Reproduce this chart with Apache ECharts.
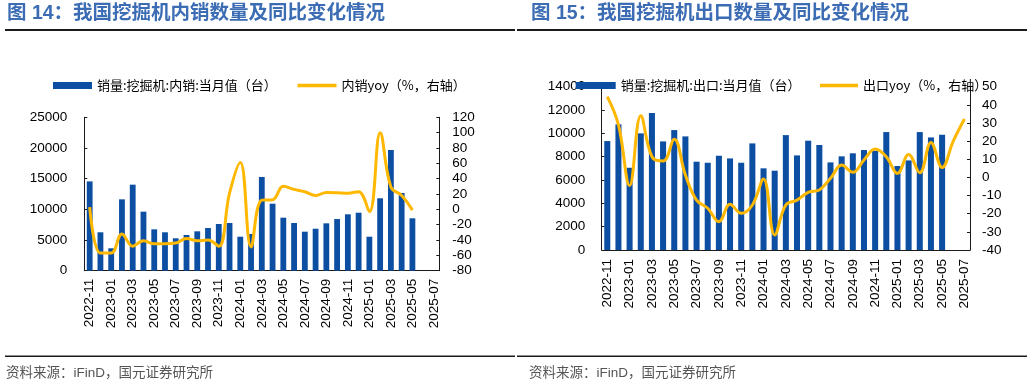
<!DOCTYPE html>
<html>
<head>
<meta charset="utf-8">
<script src="https://cdn.jsdelivr.net/npm/echarts@6/dist/echarts.min.js"></script>
<style>
  html, body { margin: 0; padding: 0; background: #fff; }
  #chart { width: 1032px; height: 386px; }
</style>
</head>
<body>
<div id="chart"></div>
<script>
// ---- Data ----
const categories = [
  '2022-11','2022-12','2023-01','2023-02','2023-03','2023-04','2023-05','2023-06','2023-07','2023-08','2023-09','2023-10','2023-11','2023-12',
  '2024-01','2024-02','2024-03','2024-04','2024-05','2024-06','2024-07','2024-08','2024-09','2024-10','2024-11','2024-12',
  '2025-01','2025-02','2025-03','2025-04','2025-05','2025-06','2025-07'
];
const domesticSales = [14550, 6260, 3650, 11630, 14020, 9620, 6740, 6260, 5280, 5820, 6420, 6960, 7610, 7770,
  5540, 5980, 15280, 10920, 8640, 7770, 6360, 6840, 7720, 8420, 9190, 9450,
  5540, 11800, 19670, 12660, 8540];
const domesticYoy = [3, -57, -57, -32, -48, -41, -45, -45, -44, -38, -41, -40, -48, 21,
  61, -49, 12, 12.5, 30, 26, 23, 18, 22, 21.7, 21, 23,
  -3, 100, 29, 18, -1];
const exportSales = [9340, 10770, 7050, 10000, 11740, 9310, 10280, 9740, 7570, 7480, 8080, 7850, 7480, 9140,
  7000, 6800, 9850, 8110, 9370, 9000, 7510, 8030, 8290, 8570, 8500, 10110,
  7200, 7680, 10110, 9650, 9880];
const exportYoy = [44.5, 29, -4.5, 34, 11.4, 9, 21, 1.3, -12.5, -17, -24.4, -14.8, -19.8, -15.2,
  -0.9, -31.7, -15.2, -12.5, -8.2, -6.9, -0.5, 6.8, 2.8, 9.6, 15.6, 11.4,
  2.2, 12.7, 2.6, 19.3, 5.4, 20, 32.2];

const leftTitle = '图 14：我国挖掘机内销数量及同比变化情况';
const rightTitle = '图 15：我国挖掘机出口数量及同比变化情况';
const sourceText = '资料来源：iFinD，国元证券研究所';
const names = {
  domBar: '销量:挖掘机:内销:当月值（台）',
  domLine: '内销yoy（%，右轴）',
  expBar: '销量:挖掘机:出口:当月值（台）',
  expLine: '出口yoy（%，右轴）'
};

// ---- Styles ----
const FONT = "'Liberation Sans', Arial, 'Noto Sans CJK SC', sans-serif";
const BAR = '#0B4EA2';
const LINE = '#FFB800';
const AXIS = '#1a1a1a';

function xAxisCfg(gridIndex, margin) {
  return {
    type: 'category', gridIndex, data: categories,
    axisLine: { lineStyle: { color: AXIS, width: 1 } },
    axisTick: { inside: true, length: 3, interval: 1, lineStyle: { color: AXIS } },
    axisLabel: { rotate: 90, interval: 1, margin, color: '#000', fontSize: 13.5, fontFamily: FONT }
  };
}
function yAxisCfg(gridIndex, pos, min, max, interval, margin) {
  return {
    type: 'value', gridIndex, position: pos, min, max, interval,
    splitLine: { show: false },
    axisLine: { show: true, onZero: false, lineStyle: { color: AXIS, width: 1 } },
    axisTick: { show: true, inside: true, length: 3, lineStyle: { color: AXIS } },
    axisLabel: { margin, color: '#000', fontSize: 13.5, fontFamily: FONT, formatter: v => String(v) }
  };
}
const legendText = { fontSize: 13, color: '#000', fontFamily: "'Noto Sans CJK SC', sans-serif", lineHeight: 15 };
function legendCfg(name, left, w, h) {
  return { left, top: 73, itemWidth: w, itemHeight: h, data: [{ name, icon: 'rect' }], textStyle: legendText, z: 10 };
}

const chart = echarts.init(document.getElementById('chart'), null, { renderer: 'canvas' });

const option = {
  animation: false,
  backgroundColor: '#fff',
  textStyle: { fontFamily: FONT },
  grid: [
    { left: 84.3, right: 592.7, top: 117.3, bottom: 115.3, containLabel: false },
    { left: 601.7, right: 62, top: 86.7, bottom: 136, containLabel: false }
  ],
  legend: [
    legendCfg(names.domBar, 48, 39, 7),
    legendCfg(names.domLine, 292.5, 39, 3.5),
    legendCfg(names.expBar, 570.7, 40, 7),
    legendCfg(names.expLine, 815, 38, 3.5)
  ],
  xAxis: [xAxisCfg(0, 8), xAxisCfg(1, 9)],
  yAxis: [
    yAxisCfg(0, 'left', 0, 25000, 5000, 17),
    yAxisCfg(0, 'right', -80, 120, 20, 13),
    yAxisCfg(1, 'left', 0, 14000, 2000, 16.5),
    yAxisCfg(1, 'right', -40, 50, 10, 12)
  ],
  series: [
    {
      name: names.domBar, type: 'bar', xAxisIndex: 0, yAxisIndex: 0,
      data: domesticSales, barWidth: '54%',
      itemStyle: { color: BAR }
    },
    {
      name: names.domLine, type: 'line', xAxisIndex: 0, yAxisIndex: 1,
      data: domesticYoy, smooth: 0.4, symbol: 'none', showSymbol: false,
      lineStyle: { color: LINE, width: 3 }, itemStyle: { color: LINE }
    },
    {
      name: names.expBar, type: 'bar', xAxisIndex: 1, yAxisIndex: 2,
      data: exportSales, barWidth: '54%',
      itemStyle: { color: BAR }
    },
    {
      name: names.expLine, type: 'line', xAxisIndex: 1, yAxisIndex: 3,
      data: exportYoy, smooth: 0.4, symbol: 'none', showSymbol: false,
      lineStyle: { color: LINE, width: 3 }, itemStyle: { color: LINE }
    }
  ],
  graphic: [
    { type: 'text', left: 7, top: 4, style: { text: leftTitle, fill: '#3B6CB4', font: "bold 19.5px 'Liberation Sans', 'Noto Sans CJK SC', sans-serif" } },
    { type: 'text', left: 531, top: 4, style: { text: rightTitle, fill: '#3B6CB4', font: "bold 19.5px 'Liberation Sans', 'Noto Sans CJK SC', sans-serif" } },
    { type: 'rect', shape: { x: 5, y: 29, width: 510, height: 2 }, style: { fill: '#1a1a1a' } },
    { type: 'rect', shape: { x: 517, y: 29, width: 510, height: 2 }, style: { fill: '#1a1a1a' } },
    { type: 'rect', shape: { x: 5, y: 355.5, width: 510, height: 1.5 }, style: { fill: '#1a1a1a' } },
    { type: 'rect', shape: { x: 517, y: 355.5, width: 510, height: 1.5 }, style: { fill: '#1a1a1a' } },
    { type: 'text', left: 6, top: 367, style: { text: sourceText, fill: '#555', font: "13.5px 'Liberation Sans', 'Noto Sans CJK SC', sans-serif" } },
    { type: 'text', left: 529, top: 367, style: { text: sourceText, fill: '#555', font: "13.5px 'Liberation Sans', 'Noto Sans CJK SC', sans-serif" } }
  ]
};
chart.setOption(option);
</script>
</body>
</html>
